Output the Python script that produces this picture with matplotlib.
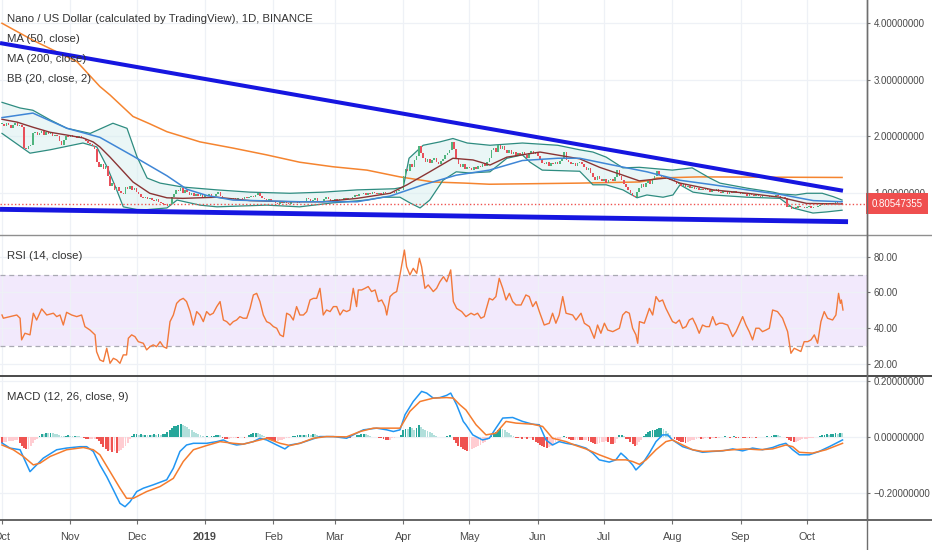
import numpy as np
import matplotlib
matplotlib.use('Agg')
import matplotlib.pyplot as plt
from matplotlib.lines import Line2D
from matplotlib.transforms import blended_transform_factory

plt.rcParams['font.family'] = ['Liberation Sans', 'DejaVu Sans']

# ---------------- data (days counted from 1 Oct 2018) ----------------
month_days = [0, 31, 61, 92, 123, 151, 182, 212, 243, 273, 304, 335, 365]
month_labels = ['Oct', 'Nov', 'Dec', '2019', 'Feb', 'Mar', 'Apr', 'May', 'Jun', 'Jul', 'Aug', 'Sep', 'Oct']

price_ticks = [1.0, 2.0, 3.0, 4.0]
price_tick_labels = ['1.00000000', '2.00000000', '3.00000000', '4.00000000']
rsi_ticks = [20, 40, 60, 80]
rsi_tick_labels = ['20.00', '40.00', '60.00', '80.00']
macd_ticks = [-0.2, 0.0, 0.2]
macd_tick_labels = ['\u22120.20000000', '0.00000000', '0.20000000']

close = [
    2.22, 2.18, 2.24, 2.20, 2.15, 2.20, 2.23, 2.18, 2.20, 2.17,
    1.80, 1.78, 1.82, 1.85, 2.05, 2.08, 2.02, 2.06, 2.10, 2.03,
    2.07, 2.04, 2.06, 2.00, 2.03, 2.00, 1.92, 1.84, 1.93, 2.00,
    1.98, 2.02, 1.98, 2.00, 1.97, 2.00, 1.96, 1.95, 1.92, 1.88,
    1.86, 1.83, 1.78, 1.55, 1.45, 1.50, 1.42, 1.47, 1.30, 1.12,
    1.18, 1.05, 1.10, 1.03, 1.00, 0.98, 1.10, 1.06, 1.12, 1.05,
    1.08, 1.02, 0.98, 0.93, 0.90, 0.93, 0.88, 0.91, 0.87, 0.85,
    0.88, 0.84, 0.82, 0.80, 0.78, 0.76, 0.80, 0.92, 0.97, 1.05,
    1.03, 1.08, 1.00, 1.04, 1.01, 0.96, 0.99, 0.95, 0.98, 0.94,
    0.97, 0.93, 0.96, 0.94, 0.97, 0.93, 0.95, 0.98, 1.02, 0.94,
    0.90, 0.88, 0.90, 0.87, 0.89, 0.90, 0.88, 0.90, 0.91, 0.89,
    0.92, 0.90, 0.93, 0.95, 0.92, 0.96, 1.00, 0.94, 0.90, 0.88,
    0.86, 0.88, 0.85, 0.84, 0.82, 0.80, 0.83, 0.81, 0.84, 0.82,
    0.80, 0.83, 0.86, 0.84, 0.82, 0.85, 0.83, 0.86, 0.90, 0.88,
    0.85, 0.87, 0.90, 0.86, 0.84, 0.86, 0.88, 0.92, 0.88, 0.86,
    0.87, 0.88, 0.87, 0.89, 0.88, 0.90, 0.89, 0.91, 0.90, 0.92,
    0.96, 0.95, 0.98, 0.97, 0.99, 0.96, 1.00, 0.98, 1.01, 0.99,
    0.97, 1.00, 0.98, 1.01, 0.99, 0.97, 1.00, 1.02, 1.00, 1.03,
    1.05, 1.04, 1.30, 1.42, 1.38, 1.50, 1.46, 1.58, 1.65, 1.82,
    1.70, 1.62, 1.55, 1.60, 1.52, 1.58, 1.62, 1.55, 1.50, 1.56,
    1.60, 1.66, 1.70, 1.75, 1.90, 1.78, 1.60, 1.50, 1.45, 1.50,
    1.42, 1.46, 1.44, 1.40, 1.45, 1.42, 1.48, 1.45, 1.50, 1.47,
    1.55, 1.62, 1.75, 1.80, 1.72, 1.85, 1.78, 1.82, 1.75, 1.70,
    1.76, 1.68, 1.72, 1.65, 1.70, 1.67, 1.72, 1.66, 1.62, 1.70,
    1.74, 1.68, 1.72, 1.65, 1.60, 1.52, 1.50, 1.55, 1.48, 1.52,
    1.50, 1.54, 1.50, 1.56, 1.62, 1.72, 1.58, 1.55, 1.50, 1.53,
    1.48, 1.52, 1.55, 1.50, 1.45, 1.40, 1.44, 1.35, 1.28, 1.22,
    1.30, 1.25, 1.20, 1.24, 1.18, 1.22, 1.25, 1.20, 1.28, 1.40,
    1.30, 1.22, 1.15, 1.10, 1.05, 1.00, 0.95, 0.92, 1.02, 1.08,
    1.15, 1.10, 1.18, 1.20, 1.15, 1.22, 1.30, 1.38, 1.32, 1.28,
    1.30, 1.25, 1.27, 1.22, 1.24, 1.20, 1.16, 1.18, 1.12, 1.15,
    1.10, 1.12, 1.08, 1.10, 1.06, 1.09, 1.04, 1.07, 1.05, 1.08,
    1.04, 1.02, 1.05, 1.03, 1.06, 1.02, 1.00, 1.03, 1.01, 0.98,
    1.02, 1.00, 1.03, 0.99, 1.00, 0.98, 1.00, 0.97, 0.95, 0.98,
    0.96, 0.94, 0.97, 0.95, 0.93, 0.96, 0.94, 0.95, 0.92, 0.95,
    0.93, 0.96, 0.94, 0.92, 0.93, 0.90, 0.74, 0.76, 0.72, 0.75,
    0.73, 0.76, 0.74, 0.75, 0.73, 0.74, 0.76, 0.73, 0.75, 0.74,
    0.77, 0.78, 0.80, 0.79, 0.81, 0.80, 0.82, 0.80, 0.83, 0.81,
    0.82, 0.80547355,
]
last_label = '0.80547355'

ma50_day = [0, 14, 29.5, 44.4, 59.4, 74.8, 83.9, 93, 104.8, 135, 161, 176, 191, 206, 221,
            236, 252, 262, 277, 292.5, 307.5, 322.5, 338, 353, 368, 381]
ma50_val = [2.33, 2.41, 2.14, 1.98, 1.65, 1.30, 1.06, 0.95, 0.87, 0.84, 0.84, 0.94, 1.14, 1.31, 1.40,
            1.57, 1.61, 1.61, 1.49, 1.37, 1.22, 1.14, 1.05, 0.97, 0.86, 0.84]

ma200_day = [0, 14, 34, 44.4, 49, 59.4, 67, 74.8, 89.8, 104.8, 120, 135, 150, 165.5, 180.5,
             195.5, 210, 221, 262, 289, 294, 297, 316, 381]
ma200_val = [4.00, 3.70, 3.32, 2.88, 2.73, 2.35, 2.22, 2.08, 1.90, 1.79, 1.67, 1.54, 1.46, 1.40, 1.28,
             1.19, 1.17, 1.15, 1.17, 1.19, 1.22, 1.26, 1.28, 1.27]

bb_mid_day = [0, 6.8, 14, 21.8, 29.5, 36.7, 41.3, 44.4, 49, 53.5, 59.4, 67, 74.8, 82, 97.5,
              112.5, 130.6, 145.6, 161, 176, 183.7, 194, 204.5, 213.6, 221.3, 229, 244, 262,
              271, 281.6, 289, 301.6, 307.5, 322.5, 338, 352.8, 365, 381]
bb_mid_val = [2.30, 2.25, 2.16, 2.07, 2.02, 1.97, 1.90, 1.81, 1.63, 1.44, 1.19, 0.99, 0.91, 0.90, 0.92,
              0.86, 0.84, 0.84, 0.90, 0.99, 1.14, 1.37, 1.61, 1.58, 1.49, 1.63, 1.72, 1.60,
              1.45, 1.31, 1.21, 1.26, 1.17, 1.05, 0.99, 0.92, 0.81, 0.80]

bb_up_day = [0, 8.2, 14, 21.8, 29.5, 40, 50.3, 56.7, 61.2, 65.8, 71.7, 82, 97.5, 112.5, 130.6,
             145.6, 161, 178, 182, 184.6, 191, 198.6, 204.5, 211, 221.3, 236, 252, 262, 268,
             274, 281.6, 289, 304, 313, 321, 325.6, 338, 349.7, 353, 360, 365, 372, 377, 381]
bb_up_val = [2.60, 2.50, 2.46, 2.29, 2.14, 2.05, 2.23, 2.14, 1.64, 1.26, 1.17, 1.10, 1.05, 1.01, 0.99,
             1.01, 1.05, 1.07, 1.10, 1.61, 1.84, 1.90, 1.96, 1.88, 1.84, 1.88, 1.84, 1.76, 1.72,
             1.63, 1.44, 1.45, 1.40, 1.44, 1.26, 1.17, 1.08, 1.01, 0.98, 0.96, 0.99, 0.99, 0.93, 0.87]

bb_lo_day = [0, 12.7, 21.8, 36.7, 43, 47.6, 52, 55, 62.6, 74.8, 79.4, 89.8, 97.5, 120, 135,
             150, 165.5, 172.8, 180.5, 185, 189.6, 194, 200, 206, 212, 221.3, 229, 236, 239.5,
             245, 262, 268, 274, 281.6, 288, 292.5, 299.8, 304.3, 307.5, 313.4, 322.5, 338,
             352.8, 358.7, 367.8, 374, 381]
bb_lo_val = [2.05, 1.70, 1.76, 1.88, 1.81, 1.46, 1.05, 0.75, 0.69, 0.73, 0.87, 0.78, 0.75, 0.78, 0.75,
             0.82, 0.87, 0.92, 0.92, 0.82, 0.73, 0.87, 1.22, 1.37, 1.35, 1.37, 1.61, 1.67, 1.54,
             1.40, 1.38, 1.14, 1.14, 1.05, 0.91, 0.96, 0.92, 0.96, 1.14, 1.01, 0.96, 0.92,
             0.90, 0.73, 0.64, 0.66, 0.69]

trend_up_day = [-0.9, 381.4]
trend_up_val = [3.65, 1.035]
trend_lo_day = [-0.9, 383.7]
trend_lo_val = [0.706, 0.487]

rsi_day = [0, 0.6, 3.6, 6.7, 8.2, 8.9, 10.4, 12.7, 14.2, 15.7, 18.0, 20.3, 23.3, 24.8, 26.3, 27.8,
           29.3, 31.6, 33.9, 36.1, 37.6, 39.9, 42.2, 42.9, 44.4, 46.0, 47.5, 49.0, 50.5, 52.0,
           53.5, 55.0, 56.5, 57.3, 58.8, 60.3, 61.8, 64.1, 65.6, 67.1, 68.6, 70.1, 71.7, 73.2,
           74.7, 76.2, 77.7, 79.2, 80.7, 82.2, 83.7, 85.3, 86.8, 88.3, 89.8, 91.3, 92.8, 94.3,
           95.8, 97.4, 98.9, 100.4, 101.9, 103.4, 104.9, 106.4, 107.9, 109.4, 111.0, 112.5,
           114.0, 115.5, 117.0, 118.5, 120.0, 121.5, 123.1, 124.6, 126.1, 127.6, 129.1, 130.6,
           132.1, 133.6, 135.1, 136.7, 138.2, 139.7, 141.2, 142.7, 144.2, 145.7, 147.2, 148.8,
           150.3, 151.8, 153.3, 154.8, 156.3, 157.8, 159.3, 160.8, 161.6, 163.1, 164.6, 166.1,
           167.6, 169.2, 170.7, 172.2, 173.7, 174.5, 176.0, 177.5, 179.0, 180.5, 182.5, 183.5,
           185.0, 186.5, 188.1, 189.3, 190.3, 191.8, 193.3, 195.6, 197.1, 198.6, 200.2, 201.7,
           203.5, 204.7, 206.2, 208.5, 210.4,
           212.7, 214.2, 215.7, 217.2, 218.7, 219.5, 221.0, 222.5, 224.0, 225.5, 227.1, 228.6,
           230.1, 231.6, 233.1, 235.4, 237.6, 239.1, 240.7, 242.2, 243.7, 245.9, 248.2, 249.7,
           251.2, 252.7, 254.3, 255.8, 258.8, 260.3, 262.6, 264.1, 266.4, 268.6, 270.1, 271.6,
           273.2, 274.7, 277.0, 280.0, 281.5, 283.0, 284.5, 286.0, 287.5, 288.3, 289.1, 291.3,
           293.6, 295.1, 296.6, 298.1, 299.6, 301.1, 302.6, 304.1, 305.6, 307.2, 308.7, 310.2,
           311.7, 313.2, 314.7, 316.2, 317.7, 319.3, 320.8, 322.3, 323.8, 325.3, 326.8, 329.1,
           331.4, 332.9, 335.9, 337.4, 338.9, 340.4, 341.9, 343.4, 344.9, 346.5, 348.0, 349.5,
           351.7, 354.0, 356.3, 357.8, 359.3, 360.8, 362.3, 363.8, 365.4, 366.9, 368.4, 369.9,
           371.4, 372.9, 374.4, 376.7, 378.2, 379.4, 380.2, 380.7, 381.4]
rsi_val = [47.4, 45.6, 46.5, 47.4, 45.6, 33.5, 37.2, 36.3, 48.4, 44.6, 50.8, 47.4, 48.4, 46.5, 47.4, 41.8,
           48.9, 47.4, 46.5, 47.4, 40.9, 39.0, 36.3, 26.9, 22.3, 21.4, 28.8, 20.4, 23.2, 22.3,
           20.4, 25.1, 25.1, 34.4, 36.3, 35.3, 32.5, 31.6, 27.9, 29.7, 30.7, 29.7, 32.5, 29.7,
           28.8, 43.7, 47.4, 53.9, 55.8, 56.7, 54.9, 49.3, 41.8, 49.3, 47.4, 43.7, 49.3, 47.4,
           48.4, 52.1, 54.9, 44.6, 43.7, 41.8, 43.7, 44.6, 46.5, 45.6, 45.6, 51.1,
           58.6, 59.5, 54.9, 47.4, 43.7, 42.8, 40.9, 40.0, 36.3, 35.3, 48.4, 47.4,
           44.6, 52.1, 47.4, 47.4, 49.3, 55.8, 56.7, 56.7, 62.3, 47.4, 50.2, 49.3,
           52.1, 52.1, 47.4, 50.2, 49.3, 50.2, 62.3, 52.1, 61.4, 61.4, 62.3, 63.3,
           60.5, 61.4, 54.9, 55.8, 52.1, 47.4, 57.7, 59.5, 60.5, 69.8, 83.7, 74.4,
           69.8, 73.5, 70.7, 79.1, 74.4, 62.3, 64.2, 60.5, 62.3, 66.0, 68.8, 66.0,
           72.6, 54.9, 51.1, 49.3, 46.5,
           48.4, 47.4, 48.4, 45.6, 46.5, 50.2, 56.7, 55.8, 57.7, 67.9, 62.3, 55.8,
           59.5, 54.9, 53.0, 53.0, 58.6, 57.7, 52.1, 54.9, 49.3, 41.8, 42.8, 48.4,
           42.8, 47.4, 57.7, 48.4, 47.4, 44.6, 48.4, 42.8, 40.9, 34.4, 41.8, 37.2,
           42.8, 39.0, 38.1, 40.0, 47.4, 49.3, 48.4, 40.0, 36.3, 31.6, 43.7, 42.8,
           51.1, 47.4, 57.7, 54.9, 55.8, 51.1, 47.4, 43.7, 42.8, 44.6, 40.0, 40.9,
           44.6, 45.6, 41.8, 37.2, 41.8, 40.9, 40.9, 46.5, 41.8, 42.8, 42.8, 41.8,
           35.3, 38.1, 46.5, 41.8, 38.1, 33.5, 40.0, 40.0, 38.1, 39.0, 40.0, 50.2,
           49.3, 45.6, 38.1, 26.0, 28.8, 27.9, 27.0, 32.5, 32.5, 33.5, 36.3, 31.6,
           43.7, 49.3, 45.6, 44.6, 47.4, 59.5, 53.9, 55.8, 50.2]

macd_day = [0, 3.6, 8.2, 12.7, 14.2, 18.7, 24.8, 29.3, 35.4, 38.4, 41.4, 44.4, 47.5, 50.5, 53.5,
            55.8, 58.1, 61.1, 64.1, 68.6, 74.7, 77.7, 80.7, 83.7, 86.8, 92.8, 97.4, 100.4, 103.4,
            106.4, 109.4, 114.0, 117.0, 120.0, 124.6, 128.3, 130.6, 135.1, 139.7, 144.2, 150.3,
            156.3, 159.3, 163.9, 169.9, 174.5, 177.5, 180.5, 182.8, 186.5, 190.3, 192.6, 195.6,
            198.6, 201.7, 203.5, 206.2, 209.2, 210.4, 213.5, 217.9, 221.0, 224.0, 227.1, 231.6,
            236.1, 240.7, 243.7, 246.7, 249.7, 252.7, 255.8, 260.3, 264.8, 267.9, 270.9, 275.4,
            278.4, 280.7, 283.0, 286.0, 287.5, 290.6, 293.6, 296.6, 299.6, 301.9, 304.1, 308.7,
            313.2, 317.7, 322.3, 326.8, 331.4, 335.9, 340.4, 344.9, 349.5, 352.5, 355.5, 358.6,
            361.6, 366.1, 370.6, 375.2, 378.2, 381.2]
macd_val = [-0.021, -0.039, -0.045, -0.123, -0.111, -0.075, -0.045, -0.039, -0.034, -0.034, -0.051,
            -0.099, -0.141, -0.188, -0.236, -0.248, -0.230, -0.194, -0.182, -0.170, -0.152, -0.111,
            -0.051, -0.028, -0.022, -0.022, -0.016, -0.010, -0.022, -0.028, -0.025, -0.016, -0.004,
            -0.010, -0.028, -0.042, -0.028, -0.022, -0.010, 0.002, 0.002, -0.004, 0.008, 0.026,
            0.032, 0.026, 0.020, 0.026, 0.080, 0.127, 0.163, 0.157, 0.139, 0.141, 0.149, 0.157,
            0.115, 0.056, 0.044, 0.008, -0.010, -0.004, 0.032, 0.068, 0.070, 0.056, 0.046, 0.044,
            -0.010, -0.028, -0.016, -0.022, -0.028, -0.039, -0.057, -0.081, -0.089, -0.081, -0.057,
            -0.073, -0.099, -0.117, -0.093, -0.057, -0.016, 0.008, 0.008, -0.010, -0.034, -0.045,
            -0.054, -0.051, -0.049, -0.042, -0.049, -0.039, -0.045, -0.037, -0.028, -0.022, -0.045,
            -0.063, -0.063, -0.051, -0.034, -0.022, -0.010]

signal_day = [0, 5.1, 9.7, 14.2, 17.2, 21.8, 29.3, 36.9, 41.4, 44.4, 49.0, 53.5, 56.5, 59.6, 65.6,
              71.7, 77.7, 82.2, 86.8, 92.8, 98.9, 104.9, 109.4, 114.0, 120.0, 126.1, 130.6, 135.1,
              141.2, 147.2, 156.3, 162.4, 168.4, 174.5, 180.5, 185.0, 189.6, 195.6, 201.7, 204.7,
              207.7, 210.4, 215.0, 219.5, 224.0, 228.6, 233.1, 240.7, 245.2, 249.7, 255.8, 260.3,
              264.8, 270.9, 277.0, 283.0, 286.0, 289.1, 292.1, 296.6, 301.1, 304.1, 308.7, 313.2,
              317.7, 325.3, 331.4, 337.4, 343.4, 349.5, 355.5, 358.6, 361.6, 367.6, 373.7, 381.2]
signal_val = [-0.028, -0.045, -0.069, -0.099, -0.093, -0.069, -0.045, -0.037, -0.045, -0.063, -0.123,
              -0.182, -0.218, -0.218, -0.194, -0.176, -0.147, -0.087, -0.045, -0.030, -0.016, -0.022,
              -0.025, -0.016, -0.004, -0.022, -0.030, -0.022, -0.004, 0.002, 0.001, 0.020, 0.032,
              0.032, 0.032, 0.092, 0.127, 0.139, 0.141, 0.139, 0.115, 0.097, 0.044, 0.008, 0.014,
              0.056, 0.050, 0.046, 0.038, -0.004, -0.016, -0.030, -0.042, -0.063, -0.081, -0.081,
              -0.087, -0.097, -0.081, -0.045, -0.016, -0.010, -0.028, -0.045, -0.051, -0.049,
              -0.045, -0.042, -0.045, -0.042, -0.028, -0.034, -0.054, -0.057, -0.045, -0.022]

hist = [
    -0.020, -0.018, -0.016, -0.015, -0.014, -0.013, -0.011, -0.010, -0.020, -0.030,
    -0.038, -0.044, -0.042, -0.030, -0.020, -0.012, -0.005, 0.005, 0.012, 0.011,
    0.014, 0.013, 0.016, 0.015, 0.012, 0.010, 0.008, 0.005, 0.004, 0.005,
    0.006, 0.005, 0.004, 0.005, 0.004, 0.003, 0.001, -0.004, -0.006, -0.008,
    -0.007, -0.006, -0.005, -0.006, -0.015, -0.025, -0.035, -0.042, -0.048, -0.045,
    -0.052, -0.050, -0.056, -0.050, -0.046, -0.040, -0.032, -0.020, -0.008, 0.004,
    0.010, 0.012, 0.008, 0.010, 0.006, 0.008, 0.007, 0.009, 0.008, 0.010,
    0.009, 0.011, 0.009, 0.010, 0.012, 0.018, 0.026, 0.033, 0.038, 0.041,
    0.044, 0.046, 0.045, 0.040, 0.035, 0.030, 0.024, 0.018, 0.013, 0.010,
    0.006, 0.003, 0.002, 0.004, 0.002, 0.003, 0.005, 0.008, 0.009, 0.006,
    -0.002, -0.006, -0.008, -0.006, -0.004, -0.003, -0.002, -0.003, -0.001, 0.001,
    -0.003, 0.002, 0.006, 0.011, 0.015, 0.016, 0.013, 0.010, 0.006, 0.003,
    -0.004, -0.008, -0.011, -0.013, -0.014, -0.013, -0.012, -0.010, -0.007, -0.004,
    -0.002, 0.001, 0.004, 0.005, 0.007, 0.008, 0.007, 0.009, 0.008, 0.010,
    0.009, 0.012, 0.011, 0.008, 0.004, 0.002, 0.003, 0.001, 0.002, -0.001,
    0.002, 0.001, -0.001, -0.003, -0.002, -0.004, -0.003, -0.002, -0.003, -0.001,
    0.002, 0.006, 0.009, 0.011, 0.012, 0.010, 0.008, 0.004, 0.002, 0.001,
    -0.001, -0.002, -0.004, -0.008, -0.011, -0.012, -0.009, -0.004, -0.002, -0.001,
    0.001, 0.008, 0.025, 0.030, 0.028, 0.035, 0.033, 0.027, 0.034, 0.045,
    0.035, 0.030, 0.027, 0.022, 0.018, 0.013, 0.008, 0.004, 0.002, 0.001,
    0.002, 0.001, 0.004, 0.007, 0.002, -0.012, -0.022, -0.030, -0.036, -0.042,
    -0.047, -0.050, -0.048, -0.044, -0.040, -0.036, -0.032, -0.027, -0.022, -0.016,
    -0.010, -0.004, 0.003, 0.012, 0.020, 0.026, 0.032, 0.030, 0.025, 0.020,
    0.014, 0.008, 0.003, -0.002, -0.004, -0.003, -0.005, -0.004, -0.006, -0.004,
    -0.003, -0.010, -0.016, -0.022, -0.027, -0.032, -0.035, -0.038, -0.036, -0.030,
    -0.024, -0.018, -0.012, -0.006, 0.002, 0.004, -0.004, -0.008, -0.011, -0.012,
    -0.010, -0.009, -0.010, -0.012, -0.011, -0.010, -0.013, -0.018, -0.022, -0.026,
    -0.024, -0.020, -0.017, -0.016, -0.015, -0.018, -0.024, -0.026, -0.020, -0.006,
    0.006, 0.009, 0.003, -0.005, -0.007, -0.016, -0.025, -0.030, -0.027, -0.016,
    -0.010, 0.005, 0.012, 0.018, 0.022, 0.025, 0.027, 0.030, 0.032, 0.033,
    0.028, 0.022, 0.015, 0.008, 0.002, -0.006, -0.010, -0.013, -0.016, -0.019,
    -0.020, -0.018, -0.015, -0.012, -0.010, -0.007, -0.004, -0.008, -0.006, -0.004,
    -0.003, -0.005, -0.004, -0.003, -0.004, -0.002, -0.001, 0.002, 0.003, 0.001,
    -0.002, 0.002, 0.003, -0.002, -0.003, 0.001, -0.002, -0.004, -0.003, -0.004,
    -0.002, -0.001, -0.002, 0.001, 0.002, 0.001, 0.002, 0.003, 0.002, 0.004,
    0.006, 0.007, 0.006, 0.004, 0.002, 0.001, -0.004, -0.010, -0.014, -0.017,
    -0.016, -0.013, -0.010, -0.008, -0.006, -0.005, -0.004, -0.003, -0.002, -0.001,
    0.002, 0.005, 0.008, 0.009, 0.010, 0.009, 0.011, 0.012, 0.014, 0.011,
    0.016, 0.013,
]

# ---------------- figure layout ----------------
W, H = 932, 550
fig = plt.figure(figsize=(W / 100, H / 100), dpi=100)
fig.patch.set_facecolor('white')

axis_x = 867  # right price-scale line (px)
rows = {'main': (0, 235), 'rsi': (235, 376), 'macd': (376, 519.5)}


def make_ax(r):
    top, bot = rows[r]
    return fig.add_axes([0, 1 - bot / H, axis_x / W, (bot - top) / H])


ax = make_ax('main')
ax_rsi = make_ax('rsi')
ax_macd = make_ax('macd')

XL = (-0.907, 392.3)
GRID = '#eef1f6'
TXT = '#333333'
TICK = '#4a4a4a'
LINE = '#6e6e6e'
YLAB = 7.0

for a in (ax, ax_rsi, ax_macd):
    a.set_xlim(*XL)
    a.set_facecolor('white')
    a.set_xticks(month_days)
    a.grid(True, color=GRID, lw=0.9)
    a.set_axisbelow(True)
    a.yaxis.tick_right()
    a.tick_params(axis='y', direction='out', length=2.5, width=0.8, color=LINE, pad=2.5,
                  labelsize=YLAB, labelcolor=TICK)
    for s in ('top', 'left', 'bottom'):
        a.spines[s].set_visible(False)
    a.spines['right'].set_color(LINE)
    a.spines['right'].set_linewidth(1.0)

for a in (ax, ax_rsi):
    a.tick_params(axis='x', length=0, labelbottom=False)

# ---------------- main price pane ----------------
ax.set_ylim(0.2513, 4.412)
ax.set_yticks(price_ticks)
ax.set_yticklabels(price_tick_labels)

days = np.arange(len(close))
c = np.array(close)
o = np.concatenate([[c[0]], c[:-1]])
up = c >= o
body_h = np.where(np.abs(c - o) < 0.006, 0.006, c - o)

# Bollinger band fill
poly_x = list(bb_up_day) + list(bb_lo_day)[::-1]
poly_y = list(bb_up_val) + list(bb_lo_val)[::-1]
ax.fill(poly_x, poly_y, color='#d9eff0', alpha=0.55, lw=0, zorder=1)

ax.plot(ma200_day, ma200_val, color='#f5842f', lw=1.1, zorder=2)
ax.plot(bb_up_day, bb_up_val, color='#2e8c80', lw=0.9, zorder=2)
ax.plot(bb_lo_day, bb_lo_val, color='#2e8c80', lw=0.9, zorder=2)

ax.bar(days[up], body_h[up], bottom=o[up], width=0.7, color='#4fb47e', lw=0, zorder=3)
ax.bar(days[~up], body_h[~up], bottom=o[~up], width=0.7, color='#e8505b', lw=0, zorder=3)

ax.plot(bb_mid_day, bb_mid_val, color='#8a3434', lw=1.0, zorder=4)
ax.plot(ma50_day, ma50_val, color='#3f86d6', lw=1.1, zorder=4)

ax.axhline(c[-1], color='#ef5350', lw=1.0, ls=(0, (1, 1.6)), zorder=4)

ax.plot(trend_up_day, trend_up_val, color='#1616e0', lw=2.9, solid_capstyle='butt', zorder=5)
ax.plot(trend_lo_day, trend_lo_val, color='#1616e0', lw=3.5, solid_capstyle='butt', zorder=5)

tr = blended_transform_factory(ax.transAxes, ax.transData)
ax.text(1.0 + 4.5 / axis_x, c[-1], last_label, transform=tr, ha='left', va='center',
        fontsize=YLAB, color='white', clip_on=False, zorder=20,
        bbox=dict(boxstyle='square,pad=0.55', fc='#ef4f4f', ec='none'))

# ---------------- RSI pane ----------------
ax_rsi.set_ylim(13.3, 92.12)
ax_rsi.set_yticks(rsi_ticks)
ax_rsi.set_yticklabels(rsi_tick_labels)
ax_rsi.axhspan(30, 70, color='#f2e9fc', lw=0, zorder=0.5)
ax_rsi.axhline(70, color='#a9a9b3', lw=0.9, ls=(0, (4, 3)), zorder=1)
ax_rsi.axhline(30, color='#a9a9b3', lw=0.9, ls=(0, (4, 3)), zorder=1)
ax_rsi.plot(rsi_day, rsi_val, color='#f2793a', lw=1.0, zorder=3)

# ---------------- MACD pane ----------------
ax_macd.set_ylim(-0.2936, 0.2179)
ax_macd.set_yticks(macd_ticks)
ax_macd.set_yticklabels(macd_tick_labels)
h = np.array(hist)
prev = np.concatenate([[h[0]], h[:-1]])
cols = np.where(h >= 0, np.where(h >= prev, '#26a69a', '#b2dfdb'),
                np.where(h <= prev, '#ef5350', '#ffcdd2'))
ax_macd.bar(np.arange(len(h)), h, width=0.85, color=cols, lw=0, zorder=2)
ax_macd.plot(macd_day, macd_val, color='#2196f3', lw=1.1, zorder=3)
ax_macd.plot(signal_day, signal_val, color='#f57c2e', lw=1.1, zorder=3)

ax_macd.set_xticklabels(month_labels)
ax_macd.tick_params(axis='x', direction='out', length=3, width=0.8, color=LINE, pad=6,
                    labelsize=7.8, labelcolor=TICK)
for lbl in ax_macd.get_xticklabels():
    if lbl.get_text() == '2019':
        lbl.set_fontweight('bold')

# ---------------- separators & right scale line ----------------
for y_px, col, lw in ((235, '#8f8f8f', 1.0), (376, '#4a4a4a', 1.4), (519.5, '#4a4a4a', 1.2)):
    fig.add_artist(Line2D([0, 1], [1 - y_px / H] * 2, transform=fig.transFigure,
                          color=col, lw=lw))
fig.add_artist(Line2D([axis_x / W] * 2, [0, 1], transform=fig.transFigure, color=LINE, lw=1.0))

# ---------------- pane labels ----------------
def flabel(x_px, y_px, s, size=8.2):
    fig.text(x_px / W, 1 - y_px / H, s, ha='left', va='center', fontsize=size, color=TXT)


flabel(7, 19.5, 'Nano / US Dollar (calculated by TradingView), 1D, BINANCE')
flabel(7, 39.5, 'MA (50, close)')
flabel(7, 59.0, 'MA (200, close)')
flabel(7, 79.0, 'BB (20, close, 2)')
flabel(7, 255.7, 'RSI (14, close)')
flabel(7, 396.7, 'MACD (12, 26, close, 9)')

fig.savefig('out.png', dpi=100, facecolor='white')
